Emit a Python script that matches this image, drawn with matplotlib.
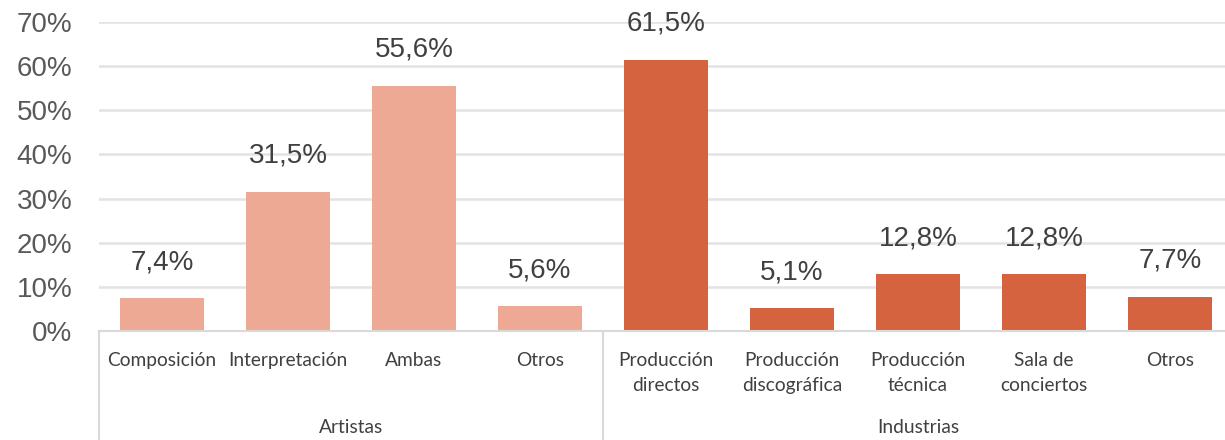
import numpy as np
import matplotlib
matplotlib.use('Agg')
import matplotlib.pyplot as plt
from matplotlib.transforms import blended_transform_factory

# Daten
categorias = ['Composición', 'Interpretación', 'Ambas', 'Otros',
              'Producción\ndirectos', 'Producción\ndiscográfica', 'Producción\ntécnica',
              'Sala de\nconciertos', 'Otros']
valores = [7.4, 31.5, 55.6, 5.6, 61.5, 5.1, 12.8, 12.8, 7.7]
grupos = ['Artistas', 'Industrias']
n_por_grupo = [4, 5]

col_art = '#EDA994'
col_ind = '#D6633F'
colores = [col_art] * n_por_grupo[0] + [col_ind] * n_por_grupo[1]

fig = plt.figure(figsize=(12.25, 4.4), dpi=100)
ax = fig.add_axes([99 / 1225, 109 / 440, 1134 / 1225, 309 / 440])

x = np.arange(len(valores))
ax.bar(x, valores, width=0.67, color=colores, zorder=3)

ax.set_xlim(-0.5, len(valores) - 0.5)
ax.set_ylim(0, 70)
ax.set_yticks(np.arange(0, 71, 10))
ax.set_yticklabels([f'{v}%' for v in range(0, 71, 10)],
                   fontsize=20, color='#595959', family='Liberation Sans')
ax.tick_params(axis='y', length=0, pad=19)
ax.yaxis.grid(True, color='#E3E3E3', linewidth=1.8, zorder=0)
for s in ['top', 'right', 'left']:
    ax.spines[s].set_visible(False)
ax.spines['bottom'].set_color('#D9D9D9')
ax.spines['bottom'].set_linewidth(1.5)
ax.spines['bottom'].set_zorder(4)

# Kategorien
ax.set_xticks(x)
ax.set_xticklabels(categorias, fontsize=13.8, color='#404040', family='Lato',
                   linespacing=1.6, va='top')
ax.tick_params(axis='x', length=0, pad=15)

# Datenlabels
for xi, v in zip(x, valores):
    ax.annotate(f'{v:.1f}%'.replace('.', ','), (xi, v), xytext=(0, 21),
                textcoords='offset points', ha='center', va='baseline',
                fontsize=20, color='#404040', family='Liberation Sans')

# Gruppen + Trennlinien
trans = blended_transform_factory(ax.transData, ax.transAxes)
grenzen = np.concatenate([[0], np.cumsum(n_por_grupo)]) - 0.5
for g in grenzen:
    ax.plot([g, g], [0, -0.36], transform=trans, color='#D9D9D9',
            linewidth=1.5, clip_on=False)
for i, g in enumerate(grupos):
    mitte = (grenzen[i] + grenzen[i + 1]) / 2
    ax.text(mitte, -0.311, g, transform=trans, ha='center', va='center',
            fontsize=13.8, color='#404040', family='Lato')

plt.savefig('out.png', dpi=100)
plt.close()
